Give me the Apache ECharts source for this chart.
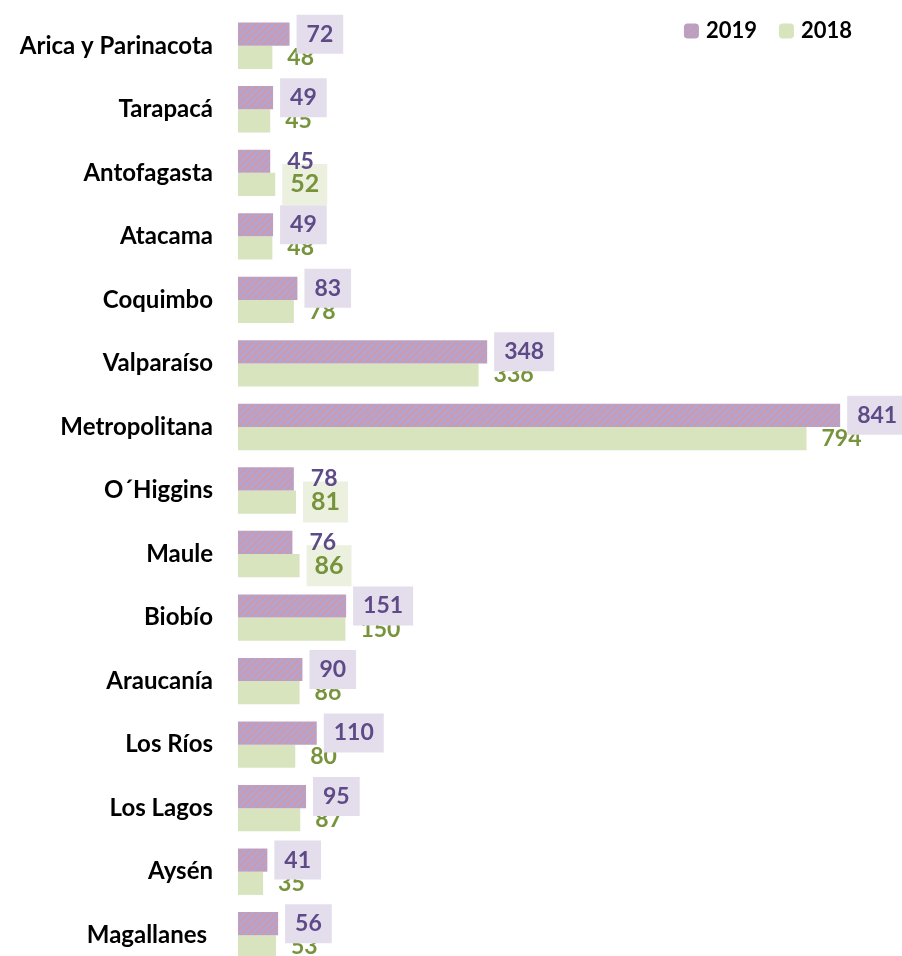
<!DOCTYPE html>
<html><head><meta charset="utf-8">
<script src="https://cdn.jsdelivr.net/npm/echarts@6/dist/echarts.min.js"></script>
<style>html,body{margin:0;padding:0;background:#fff}#c{width:902px;height:956px}</style>
</head><body><div id="c"></div>
<script>
const categories = ['Arica y Parinacota','Tarapacá','Antofagasta','Atacama','Coquimbo','Valparaíso','Metropolitana','O´Higgins','Maule','Biobío','Araucanía','Los Ríos','Los Lagos','Aysén','Magallanes '];
const values2019 = [72,49,45,49,83,348,841,78,76,151,90,110,95,41,56];
const values2018 = [48,45,52,48,78,336,794,81,86,150,86,80,87,35,53];
const seriesNames = ['2019','2018'];

function hatch(){
  const s = 7;
  const c = document.createElement('canvas'); c.width = s; c.height = s;
  const g = c.getContext('2d');
  g.fillStyle = '#b2a3d0'; g.fillRect(0,0,s,s);
  g.strokeStyle = '#e8918a'; g.lineWidth = 1.2;
  g.beginPath();
  g.moveTo(0,s); g.lineTo(s,0);
  g.moveTo(-s/2,s/2); g.lineTo(s/2,-s/2);
  g.moveTo(s/2,s*1.5); g.lineTo(s*1.5,s/2);
  g.stroke();
  return c;
}
const pattern = {image: hatch(), repeat: 'repeat'};

const FONT = 'Lato';
const purpleText = '#5f4a88', purpleBox = '#e4deec';
const greenText = '#77933c', greenBox = '#ebf1de';

const data2019 = values2019.map((v,i) => {
  const boxed = v >= values2018[i];
  return {value: v, label: {backgroundColor: boxed ? purpleBox : 'transparent'}};
});
const data2018 = values2018.map((v,i) => {
  const boxed = v > values2019[i];
  return {value: v, label: {backgroundColor: boxed ? greenBox : 'transparent', fontSize: boxed ? 25 : 23}};
});

const chart = echarts.init(document.getElementById('c'), null, {renderer: 'canvas'});
chart.setOption({
  animation: false,
  legend: {
    data: seriesNames, right: 45, top: 15, itemWidth: 15, itemHeight: 15, itemGap: 22,
    textStyle: {fontFamily: FONT, fontWeight: 'bold', fontSize: 22, color: '#000', padding: [0, 0, 0, 2]}
  },
  grid: {left: 238, top: 14, width: 716, height: 953, containLabel: false, outerBoundsMode: 'none'},
  xAxis: {type: 'value', min: 0, max: 1000, show: false},
  yAxis: {
    type: 'category', data: categories, inverse: true,
    axisLine: {show: false}, axisTick: {show: false},
    axisLabel: {margin: 25, fontFamily: FONT, fontWeight: 'bold', fontSize: 24, color: '#000'}
  },
  series: [
    {
      name: seriesNames[0], type: 'bar', data: data2019, z: 3,
      barGap: '0%', barCategoryGap: '27%',
      itemStyle: {color: pattern},
      label: {show: true, position: 'right', distance: 7, padding: [8, 10],
        fontFamily: FONT, fontWeight: 'bold', fontSize: 23, color: purpleText}
    },
    {
      name: seriesNames[1], type: 'bar', data: data2018, z: 2,
      barGap: '0%', barCategoryGap: '27%',
      itemStyle: {color: '#d7e4bd'},
      label: {show: true, position: 'right', distance: 7, padding: [8, 8],
        fontFamily: FONT, fontWeight: 'bold', fontSize: 23, color: greenText}
    }
  ]
});
</script></body></html>
